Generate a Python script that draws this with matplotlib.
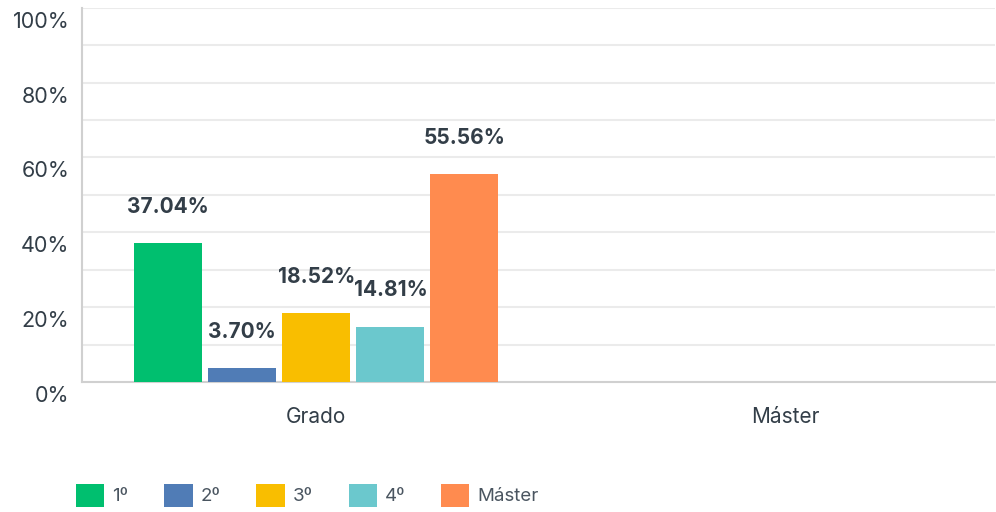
import matplotlib
matplotlib.use("Agg")
import matplotlib.pyplot as plt
import matplotlib.transforms as mtransforms
from matplotlib.patches import Patch
import numpy as np

plt.rcParams["font.family"] = ["Inter", "DejaVu Sans"]

# ===== data =====
categories = ["Grado", "Máster"]
series_names = ["1º", "2º", "3º", "4º", "Máster"]
series_values = [
    [37.04, 0.0],
    [3.70, 0.0],
    [18.52, 0.0],
    [14.81, 0.0],
    [55.56, 0.0],
]
y_ticks = [0, 20, 40, 60, 80, 100]
y_tick_labels = ["0%", "20%", "40%", "60%", "80%", "100%"]

colors = ["#00bf6f", "#507cb6", "#f9be00", "#6bc8cd", "#ff8b4f"]
text_color = "#333e48"

fig = plt.figure(figsize=(9.96, 5.12), dpi=100)
ax = fig.add_axes([0.0823, 0.254, 0.9167, 0.731])

x = np.arange(len(categories))
bar_w = 0.145
step = 0.158
offsets = (np.arange(len(series_names)) - 2) * step

for i, (name, vals) in enumerate(zip(series_names, series_values)):
    bars = ax.bar(x + offsets[i], vals, width=bar_w, color=colors[i],
                  label=name, zorder=3)
    for b, v in zip(bars, vals):
        if v > 0:
            ax.annotate(f"{v:.2f}%", (b.get_x() + b.get_width() / 2, v),
                        xytext=(0, 26), textcoords="offset points",
                        ha="center", va="center", fontsize=15,
                        fontweight="bold", color=text_color)

ax.set_xlim(-0.5, 1.448)
ax.set_ylim(0, 100)
ax.set_xticks(x)
ax.set_xticklabels(categories, fontsize=15, color=text_color)
ax.set_yticks(y_ticks)
ax.set_yticklabels(y_tick_labels, fontsize=15.5, color=text_color)
ax.set_yticks(range(10, 100, 20), minor=True)
ax.tick_params(axis="both", which="both", length=0)
ax.tick_params(axis="x", pad=18)
ax.tick_params(axis="y", pad=9)

# shift y tick labels a little below their gridline
shift = mtransforms.ScaledTranslation(0, -12 / 100, fig.dpi_scale_trans)
for lbl in ax.get_yticklabels():
    lbl.set_transform(lbl.get_transform() + shift)

ax.grid(axis="y", which="both", color="#ebebeb", linewidth=1.5, zorder=0)
ax.set_axisbelow(True)
ax.spines["top"].set_visible(False)
ax.spines["right"].set_visible(False)
ax.spines["left"].set_color("#d0d0d0")
ax.spines["bottom"].set_color("#d0d0d0")
ax.spines["left"].set_linewidth(1.5)
ax.spines["bottom"].set_linewidth(1.5)

handles = [Patch(facecolor=c, edgecolor="none") for c in colors]
fig.legend(handles, series_names, loc="center left",
           bbox_to_anchor=(0.069, 0.033), ncol=5, frameon=False,
           fontsize=13.5, labelcolor="#4a5560",
           handlelength=1.5, handleheight=1.5, handletextpad=0.43,
           columnspacing=1.92, borderaxespad=0)

fig.savefig("out.png", dpi=100)
